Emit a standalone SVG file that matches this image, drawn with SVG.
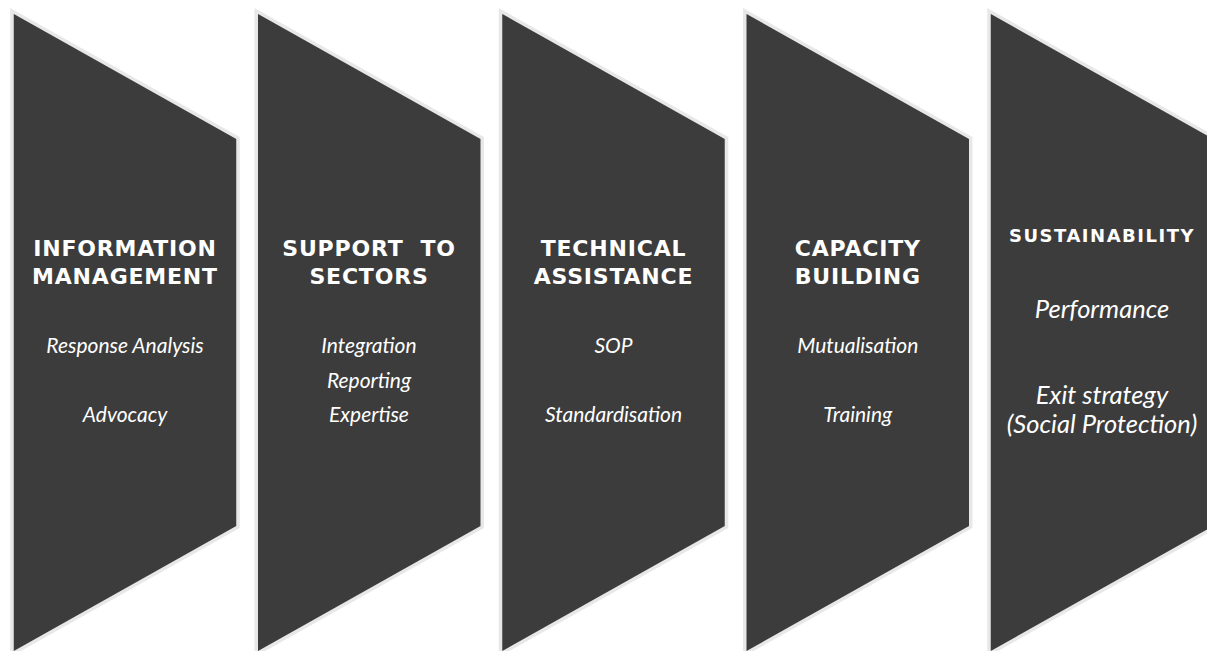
<svg xmlns="http://www.w3.org/2000/svg" width="1207" height="651" viewBox="0 0 1207 651">
<defs>
<style>
.shape{fill:#3c3c3c;stroke:#e8e8e8;stroke-width:3.5;stroke-linejoin:miter}
.t{font-family:"DejaVu Sans","Open Sans",sans-serif;font-weight:bold;font-size:22px;letter-spacing:0.8px;fill:#ffffff;text-anchor:middle}
.t2{font-family:"DejaVu Sans","Open Sans",sans-serif;font-weight:bold;font-size:18px;letter-spacing:1.5px;fill:#ffffff;text-anchor:middle}
.s{font-family:Lato,"Open Sans","DejaVu Sans",sans-serif;font-style:italic;font-size:21px;fill:#ffffff;text-anchor:middle}
.s2{font-family:Lato,"Open Sans","DejaVu Sans",sans-serif;font-style:italic;font-size:25.5px;fill:#ffffff;text-anchor:middle}
</style>
<path id="chev" d="M0,0 L226,127 L226,516 L0,643 Z"/>
</defs>
<rect width="1207" height="651" fill="#ffffff"/>
<g id="node1">
<use href="#chev" class="shape" x="12" y="11"/>
<text class="t" x="125" y="256">INFORMATION</text>
<text class="t" x="125" y="284">MANAGEMENT</text>
<text class="s" x="125" y="353">Response Analysis</text>
<text class="s" x="125" y="422">Advocacy</text>
</g>
<g id="node2">
<use href="#chev" class="shape" x="256.25" y="11"/>
<text class="t" x="369" y="256" xml:space="preserve">SUPPORT  TO</text>
<text class="t" x="369" y="284">SECTORS</text>
<text class="s" x="369" y="353">Integration</text>
<text class="s" x="369" y="388">Reporting</text>
<text class="s" x="369" y="422">Expertise</text>
</g>
<g id="node3">
<use href="#chev" class="shape" x="500.5" y="11"/>
<text class="t" x="613.5" y="256">TECHNICAL</text>
<text class="t" x="613.5" y="284">ASSISTANCE</text>
<text class="s" x="613.5" y="353">SOP</text>
<text class="s" x="613.5" y="422">Standardisation</text>
</g>
<g id="node4">
<use href="#chev" class="shape" x="744.75" y="11"/>
<text class="t" x="857.75" y="256">CAPACITY</text>
<text class="t" x="857.75" y="284">BUILDING</text>
<text class="s" x="857.75" y="353">Mutualisation</text>
<text class="s" x="857.75" y="422">Training</text>
</g>
<g id="node5">
<use href="#chev" class="shape" x="989" y="11"/>
<text class="t2" x="1102" y="242">SUSTAINABILITY</text>
<text class="s2" x="1102" y="318">Performance</text>
<text class="s2" x="1102" y="404">Exit strategy</text>
<text class="s2" x="1102" y="433">(Social Protection)</text>
</g>
<g id="connectors"></g>
</svg>
